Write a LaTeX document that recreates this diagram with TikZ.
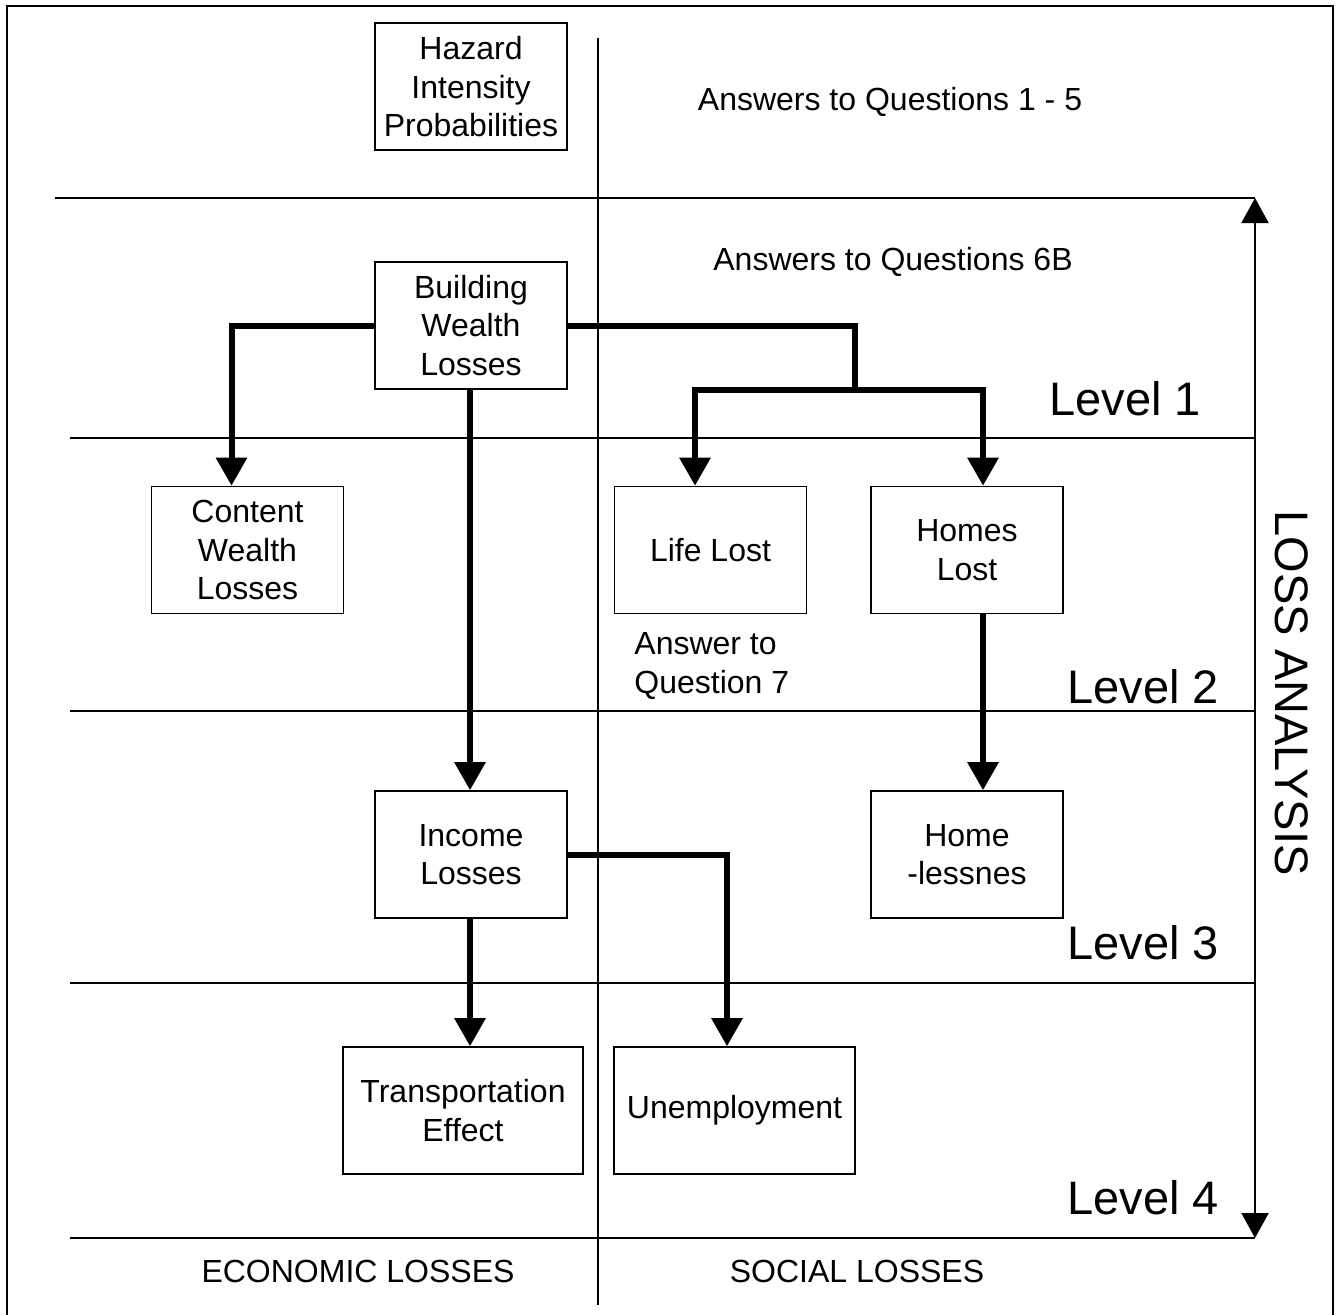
\documentclass[tikz,border=0pt]{standalone}
\usepackage{fontspec}
\setmainfont{Liberation Sans}
\usetikzlibrary{arrows.meta,calc}
\tikzset{
  box/.style={draw, line width=0.8pt, rectangle, inner sep=0pt, minimum width=96pt, minimum height=63.5pt, align=center, font=\fontsize{16}{19.2}\selectfont},
  plain/.style={inner sep=0pt, align=center, font=\fontsize{16}{19.2}\selectfont},
  lvl/.style={inner sep=0pt, font=\fontsize{23.5}{28}\selectfont},
  thin/.style={line width=1pt},
  conn/.style={line width=3pt},
  arr/.style={line width=3pt, -{Triangle[width=15pt,length=14pt]}},
}
\begin{document}
\begin{tikzpicture}[x=0.5pt,y=-0.5pt]
\useasboundingbox (0,0) rectangle (1336,1314);
% outer frame
\draw[thin] (7,1320) -- (7,6) -- (1333,6) -- (1333,1320);
% divider and horizontal level lines
\draw[thin] (598,38) -- (598,1305);
\draw[thin] (55,198) -- (1255,198);
\draw[thin] (70,438) -- (1255,438);
\draw[thin] (70,711) -- (1255,711);
\draw[thin] (70,983) -- (1255,983);
\draw[thin] (70,1238) -- (1255,1238);
% loss analysis arrow
\coordinate (lt) at (1255,198);
\coordinate (lb) at (1255,1238);
\draw[thin, {Triangle[width=13.5pt,length=12.5pt]}-{Triangle[width=13.5pt,length=12.5pt]}] (lt) -- (lb);
\node[lvl, rotate=-90] (la) at (1292,693) {LOSS ANALYSIS};
% boxes
\node[box, minimum width=96pt, text depth=0pt] (haz) at (471,86.5) {Hazard\\Intensity\\Probabilities};
\node[box] (bwl) at (471,325.5) {Building\\Wealth\\Losses};
\node[box] (cwl) at (247.5,550) {Content\\Wealth\\Losses};
\node[box] (ll) at (710.5,550) {Life Lost};
\node[box] (hl) at (967,550) {Homes\\Lost};
\node[box] (inc) at (471,854.5) {Income\\Losses};
\node[box] (hom) at (967,854.5) {Home\\-lessnes};
\node[box, minimum width=120pt] (tr) at (463,1110.5) {Transportation\\Effect};
\node[box, minimum width=120.5pt] (un) at (734.5,1110.5) {Unemployment};
% texts
\node[plain] (q15) at (890,102) {Answers to Questions 1 - 5};
\node[plain] (q6) at (893,262) {Answers to Questions 6B};
\node[plain, align=left, anchor=west] (q7) at (634,666) {Answer to\\Question 7};
\node[lvl] (l1) at (1125,399) {Level 1};
\node[lvl] (l2) at (1143,687) {Level 2};
\node[lvl] (l3) at (1143,943) {Level 3};
\node[lvl] (l4) at (1143,1198) {Level 4};
\node[plain] (eco) at (358,1271) {ECONOMIC LOSSES};
\node[plain] (soc) at (857,1271) {SOCIAL LOSSES};
% connectors
\draw[arr] (bwl.west) -| ([xshift=-8pt]cwl.north);
\draw[conn] (bwl.east) -| (855,390) coordinate (j);
\draw[arr] (j) -| ([xshift=-7.75pt]ll.north);
\draw[arr] (j) -| ([xshift=8pt]hl.north);
\draw[arr] ([xshift=-0.5pt]bwl.south) -- ([xshift=-0.5pt]inc.north);
\draw[arr] ([xshift=8pt]hl.south) -- ([xshift=8pt]hom.north);
\draw[arr] ([xshift=-0.5pt]inc.south) -- ([xshift=3.5pt]tr.north);
\draw[arr] (inc.east) -| ([xshift=-3.75pt]un.north);
\end{tikzpicture}
\end{document}
